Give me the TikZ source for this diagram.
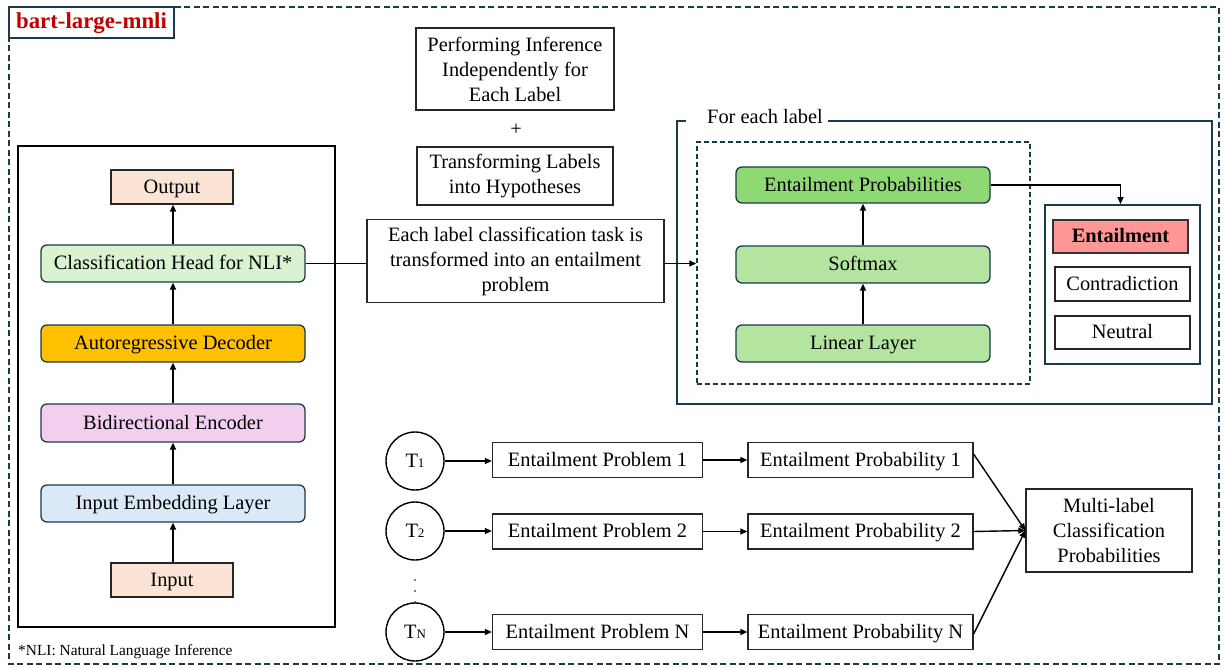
\documentclass[tikz,border=0pt]{standalone}
\usepackage{fontspec}
\setmainfont{Liberation Serif}
\usetikzlibrary{arrows.meta,positioning,calc}
\definecolor{framec}{HTML}{1B3A4B}
\definecolor{peach}{HTML}{FBE3D6}
\definecolor{lgreen}{HTML}{D9F2D0}
\definecolor{orangec}{HTML}{FFC000}
\definecolor{pinkc}{HTML}{F2CEEF}
\definecolor{lblue}{HTML}{DAE9F8}
\definecolor{dgreen}{HTML}{8ED973}
\definecolor{mgreen}{HTML}{B3E5A1}
\definecolor{redbox}{HTML}{FF9797}
\definecolor{titlered}{HTML}{C00000}
\begin{document}
\begin{tikzpicture}[x=1pt,y=-1pt,
  every node/.style={font=\fontsize{20.4}{25}\selectfont, inner sep=0pt},
  one/.style={text height=14pt, text depth=2pt},
  plain/.style={draw=black!85, line width=1.2pt, fill=white, align=center},
  rbox/.style={draw=framec, line width=1.3pt, rounded corners=6pt, align=center, one},
  arr/.style={-{Triangle[length=7pt,width=6pt]}, line width=1.4pt, black},
  ln/.style={line width=1.4pt, black},
  circ/.style={circle, draw=black, line width=1.4pt, minimum size=58pt}
]
\useasboundingbox (0,0) rectangle (1224,667);
% outer frame
\draw[framec, line width=1.5pt, dash pattern=on 6pt off 3.5pt] (9,7) rectangle (1219,664);
\node[draw=framec, line width=1.8pt, fill=white, minimum width=165pt, minimum height=31pt, one,
      font=\fontsize{22.8}{26}\selectfont\bfseries, text=titlered] (title) at (91.5,22.5) {bart-large-mnli};
% left stack
\node[draw=black, line width=2pt, minimum width=317pt, minimum height=481pt] (leftbox) at (176.5,386.5) {};
\node[plain, one, fill=peach, minimum width=122pt, minimum height=34pt] (out) at (172,187) {Output};
\node[rbox, fill=lgreen, minimum width=264pt, minimum height=37pt] (ch) at (173,263.5) {Classification Head for NLI*};
\node[rbox, fill=orangec, minimum width=264pt, minimum height=37pt] (dec) at (173,343.5) {Autoregressive Decoder};
\node[rbox, fill=pinkc, minimum width=264pt, minimum height=38pt] (enc) at (173,423) {Bidirectional Encoder};
\node[rbox, fill=lblue, minimum width=264pt, minimum height=37pt] (emb) at (173,503.5) {Input Embedding Layer};
\node[plain, one, fill=peach, minimum width=122pt, minimum height=34pt] (inp) at (172,580) {Input};
\draw[arr] (inp.north -| emb.south) -- (emb.south);
\draw[arr] (emb) -- (enc);
\draw[arr] (enc) -- (dec);
\draw[arr] (dec) -- (ch);
\draw[arr] (ch.north) -- (ch.north |- out.south);
\node[anchor=west, font=\fontsize{15.4}{18}\selectfont] (foot) at (18,652) {*NLI: Natural Language Inference};
% middle
\node[plain, minimum width=198pt, minimum height=82pt] (perf) at (515,69) {Performing Inference\\Independently for\\Each Label};
\node (plus) at (516,130) {+};
\node[plain, minimum width=196pt, minimum height=58pt] (transf) at (515,176) {Transforming Labels\\into Hypotheses};
\node[plain, minimum width=297pt, minimum height=83pt] (each) at (515.5,261) {Each label classification task is\\transformed into an entailment\\problem};
% for each label box
\draw[framec, line width=1.8pt] (686,121) -- (677,121) -- (677,404) -- (1212,404) -- (1212,121) -- (828,121);
\node[anchor=west] (felabel) at (707,117) {For each label};
\node[draw=framec, line width=1.4pt, dash pattern=on 5pt off 3pt, minimum width=333pt, minimum height=242pt] (dbox) at (863.5,263) {};
\node[rbox, fill=dgreen, minimum width=254pt, minimum height=36pt] (ep) at (863,185) {Entailment Probabilities};
\node[rbox, fill=mgreen, minimum width=254pt, minimum height=37pt] (sm) at (863,264.5) {Softmax};
\node[rbox, fill=mgreen, minimum width=254pt, minimum height=37pt] (lin) at (863,343.5) {Linear Layer};
\draw[arr] (lin) -- (sm);
\draw[arr] (sm) -- (ep);
\node[draw=framec, line width=1.8pt, minimum width=155pt, minimum height=159pt] (rb) at (1122.5,284.5) {};
\node[draw=black!80, line width=1.2pt, fill=redbox, one, minimum width=135pt, minimum height=33pt, font=\fontsize{20.4}{25}\selectfont\bfseries] (ent) at (1120.5,236.5) {Entailment};
\node[plain, one, minimum width=135pt, minimum height=34pt] (con) at (1122.5,284) {Contradiction};
\node[plain, one, minimum width=135pt, minimum height=33pt] (neu) at (1122.5,332.5) {Neutral};
\draw[arr] (ep.east) -| ([xshift=-2pt]rb.north);
\draw[ln] (ch.east) -- (ch.east -| each.west);
\draw[arr] (each.east |- ch.east) -- (dbox.west |- ch.east);
% bottom
\newcommand{\subdig}[1]{{\fontsize{13}{13}\selectfont #1}}
\node[circ, one] (t1) at (415,461) {T\subdig{1}};
\node[circ, one] (t2) at (415,531) {T\subdig{2}};
\node[circ, one] (tn) at (415,632) {T\subdig{N}};
\foreach \yy in {580,591,602} \fill (415,\yy) circle (0.9pt);
\node[plain, one, minimum width=210pt, minimum height=35pt] (pr1) at (597.5,460) {Entailment Problem 1};
\node[plain, one, minimum width=210pt, minimum height=35pt] (pr2) at (597.5,531.5) {Entailment Problem 2};
\node[plain, one, minimum width=210pt, minimum height=35pt] (prn) at (597.5,632) {Entailment Problem N};
\node[plain, one, minimum width=225pt, minimum height=35pt] (pb1) at (860.5,460) {Entailment Probability 1};
\node[plain, one, minimum width=225pt, minimum height=35pt] (pb2) at (860.5,531.5) {Entailment Probability 2};
\node[plain, one, minimum width=225pt, minimum height=35pt] (pbn) at (860.5,632) {Entailment Probability N};
\node[plain, minimum width=166pt, minimum height=83pt] (multi) at (1109,530.5) {Multi-label\\Classification\\Probabilities};
\draw[arr] (t1) -- (pr1.west |- t1);
\draw[arr] (t2) -- (pr2.west |- t2);
\draw[arr] (tn) -- (prn.west |- tn);
\draw[arr] (pr1) -- (pb1);
\draw[arr] (pr2) -- (pb2);
\draw[arr] (prn) -- (pbn);
\draw[arr] ([yshift=6pt]pb1.east) -- (multi.west);
\draw[arr] (pb2.east) -- (multi.west);
\draw[arr] ([yshift=-2pt]pbn.east) -- (multi.west);
\end{tikzpicture}
\end{document}
